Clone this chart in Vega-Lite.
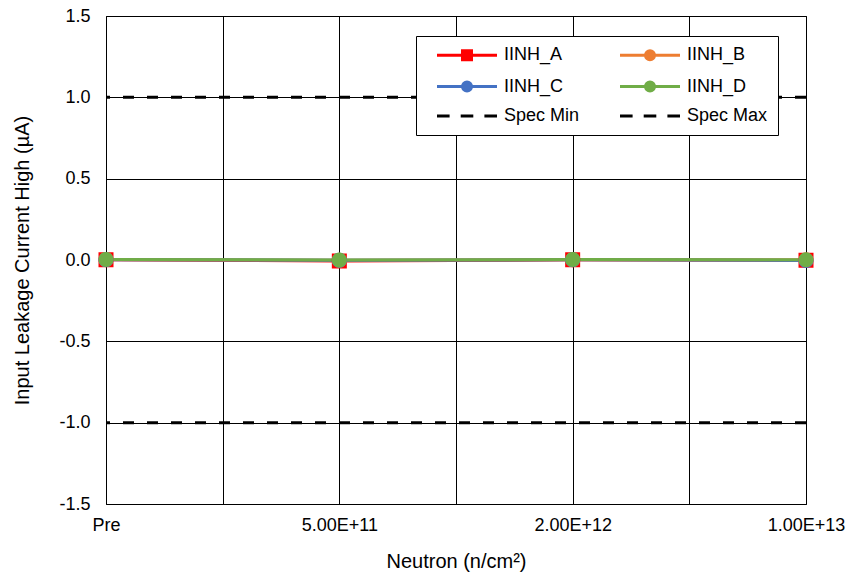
{
  "$schema": "https://vega.github.io/schema/vega-lite/v6.json",
  "width": 700,
  "height": 488,
  "autosize": {"type": "none"},
  "padding": {"left": 106, "top": 16, "right": 43, "bottom": 72},
  "background": "white",
  "config": {
    "font": "Liberation Sans",
    "view": {"stroke": "black", "strokeWidth": 1},
    "axis": {
      "labelFont": "Liberation Sans",
      "titleFont": "Liberation Sans",
      "labelFontSize": 18,
      "titleFontSize": 20,
      "titleFontWeight": "normal",
      "labelColor": "black",
      "titleColor": "black",
      "grid": true,
      "gridColor": "black",
      "gridOpacity": 1,
      "gridWidth": 1,
      "domain": false,
      "ticks": false
    },
    "legend": {
      "orient": "none",
      "legendX": 310,
      "legendY": 20,
      "columns": 2,
      "padding": 10,
      "rowPadding": 9.5,
      "columnPadding": 29,
      "strokeColor": "black",
      "fillColor": "white",
      "cornerRadius": 0,
      "labelFont": "Liberation Sans",
      "labelFontSize": 18,
      "labelColor": "black",
      "labelLimit": 200,
      "symbolSize": 144,
      "symbolStrokeWidth": 3,
      "symbolOpacity": 1,
      "symbolOffset": 32,
      "labelOffset": 28
    }
  },
  "datasets": {
    "series": [
      {"series": "IINH_A", "idx": 0, "value": 0.002},
      {"series": "IINH_A", "idx": 1, "value": -0.006},
      {"series": "IINH_A", "idx": 2, "value": 0.001},
      {"series": "IINH_A", "idx": 3, "value": -0.002},
      {"series": "IINH_B", "idx": 0, "value": 0.003},
      {"series": "IINH_B", "idx": 1, "value": -0.001},
      {"series": "IINH_B", "idx": 2, "value": 0.002},
      {"series": "IINH_B", "idx": 3, "value": 0.0},
      {"series": "IINH_C", "idx": 0, "value": 0.002},
      {"series": "IINH_C", "idx": 1, "value": -0.002},
      {"series": "IINH_C", "idx": 2, "value": 0.001},
      {"series": "IINH_C", "idx": 3, "value": -0.003},
      {"series": "IINH_D", "idx": 0, "value": 0.003},
      {"series": "IINH_D", "idx": 1, "value": 0.0},
      {"series": "IINH_D", "idx": 2, "value": 0.003},
      {"series": "IINH_D", "idx": 3, "value": 0.001}
    ],
    "spec": [
      {"series": "Spec Min", "value": -1.0},
      {"series": "Spec Max", "value": 1.0}
    ]
  },
  "encoding": {
    "y": {
      "field": "value",
      "type": "quantitative",
      "scale": {"domain": [-1.5, 1.5], "nice": false, "zero": false},
      "axis": {
        "values": [-1.5, -1, -0.5, 0, 0.5, 1, 1.5],
        "labelExpr": "replace(format(datum.value, '.1f'), '\u2212', '-')",
        "labelPadding": 16,
        "title": "Input Leakage Current High (µA)",
        "titlePadding": 26
      }
    },
    "color": {
      "field": "series",
      "type": "nominal",
      "scale": {
        "domain": ["IINH_A", "IINH_C", "Spec Min", "IINH_B", "IINH_D", "Spec Max"],
        "range": ["#FF0000", "#4472C4", "#000000", "#ED7D31", "#70AD47", "#000000"]
      },
      "legend": {"title": null}
    }
  },
  "layer": [
    {
      "data": {"name": "series"},
      "encoding": {
        "x": {
          "field": "idx",
          "type": "quantitative",
          "scale": {"domain": [0, 3], "nice": false, "zero": false},
          "axis": {
            "values": [0, 0.5, 1, 1.5, 2, 2.5, 3],
            "labelExpr": "datum.value===0 ? 'Pre' : datum.value===1 ? '5.00E+11' : datum.value===2 ? '2.00E+12' : datum.value===3 ? '1.00E+13' : ''",
            "labelPadding": 12,
            "labelFlush": false,
            "labelOverlap": false,
            "title": "Neutron (n/cm²)",
            "titlePadding": 17
          }
        }
      },
      "layer": [
        {"mark": {"type": "line", "strokeWidth": 3}, "encoding": {}},
        {
          "mark": {"type": "point", "filled": true, "size": 400, "opacity": 1, "strokeWidth": 3},
          "encoding": {
            "shape": {
              "field": "series",
              "type": "nominal",
              "scale": {
                "domain": ["IINH_A", "IINH_C", "Spec Min", "IINH_B", "IINH_D", "Spec Max"],
                "range": [
                  "M-5,0H5M-0.75,-0.75H0.75V0.75H-0.75Z",
                  "M-5,0H5M0.75,0A0.75,0.75,0,1,1,-0.75,0A0.75,0.75,0,1,1,0.75,0Z",
                  "M-5,0H-2.9M-1.05,0H1.05M2.9,0H5",
                  "M-5,0H5M0.75,0A0.75,0.75,0,1,1,-0.75,0A0.75,0.75,0,1,1,0.75,0Z",
                  "M-5,0H5M0.75,0A0.75,0.75,0,1,1,-0.75,0A0.75,0.75,0,1,1,0.75,0Z",
                  "M-5,0H-2.9M-1.05,0H1.05M2.9,0H5"
                ]
              },
              "legend": {"title": null}
            }
          }
        }
      ]
    },
    {
      "data": {"name": "spec"},
      "mark": {"type": "rule", "strokeWidth": 3, "strokeDash": [11, 13]},
      "encoding": {}
    }
  ]
}
